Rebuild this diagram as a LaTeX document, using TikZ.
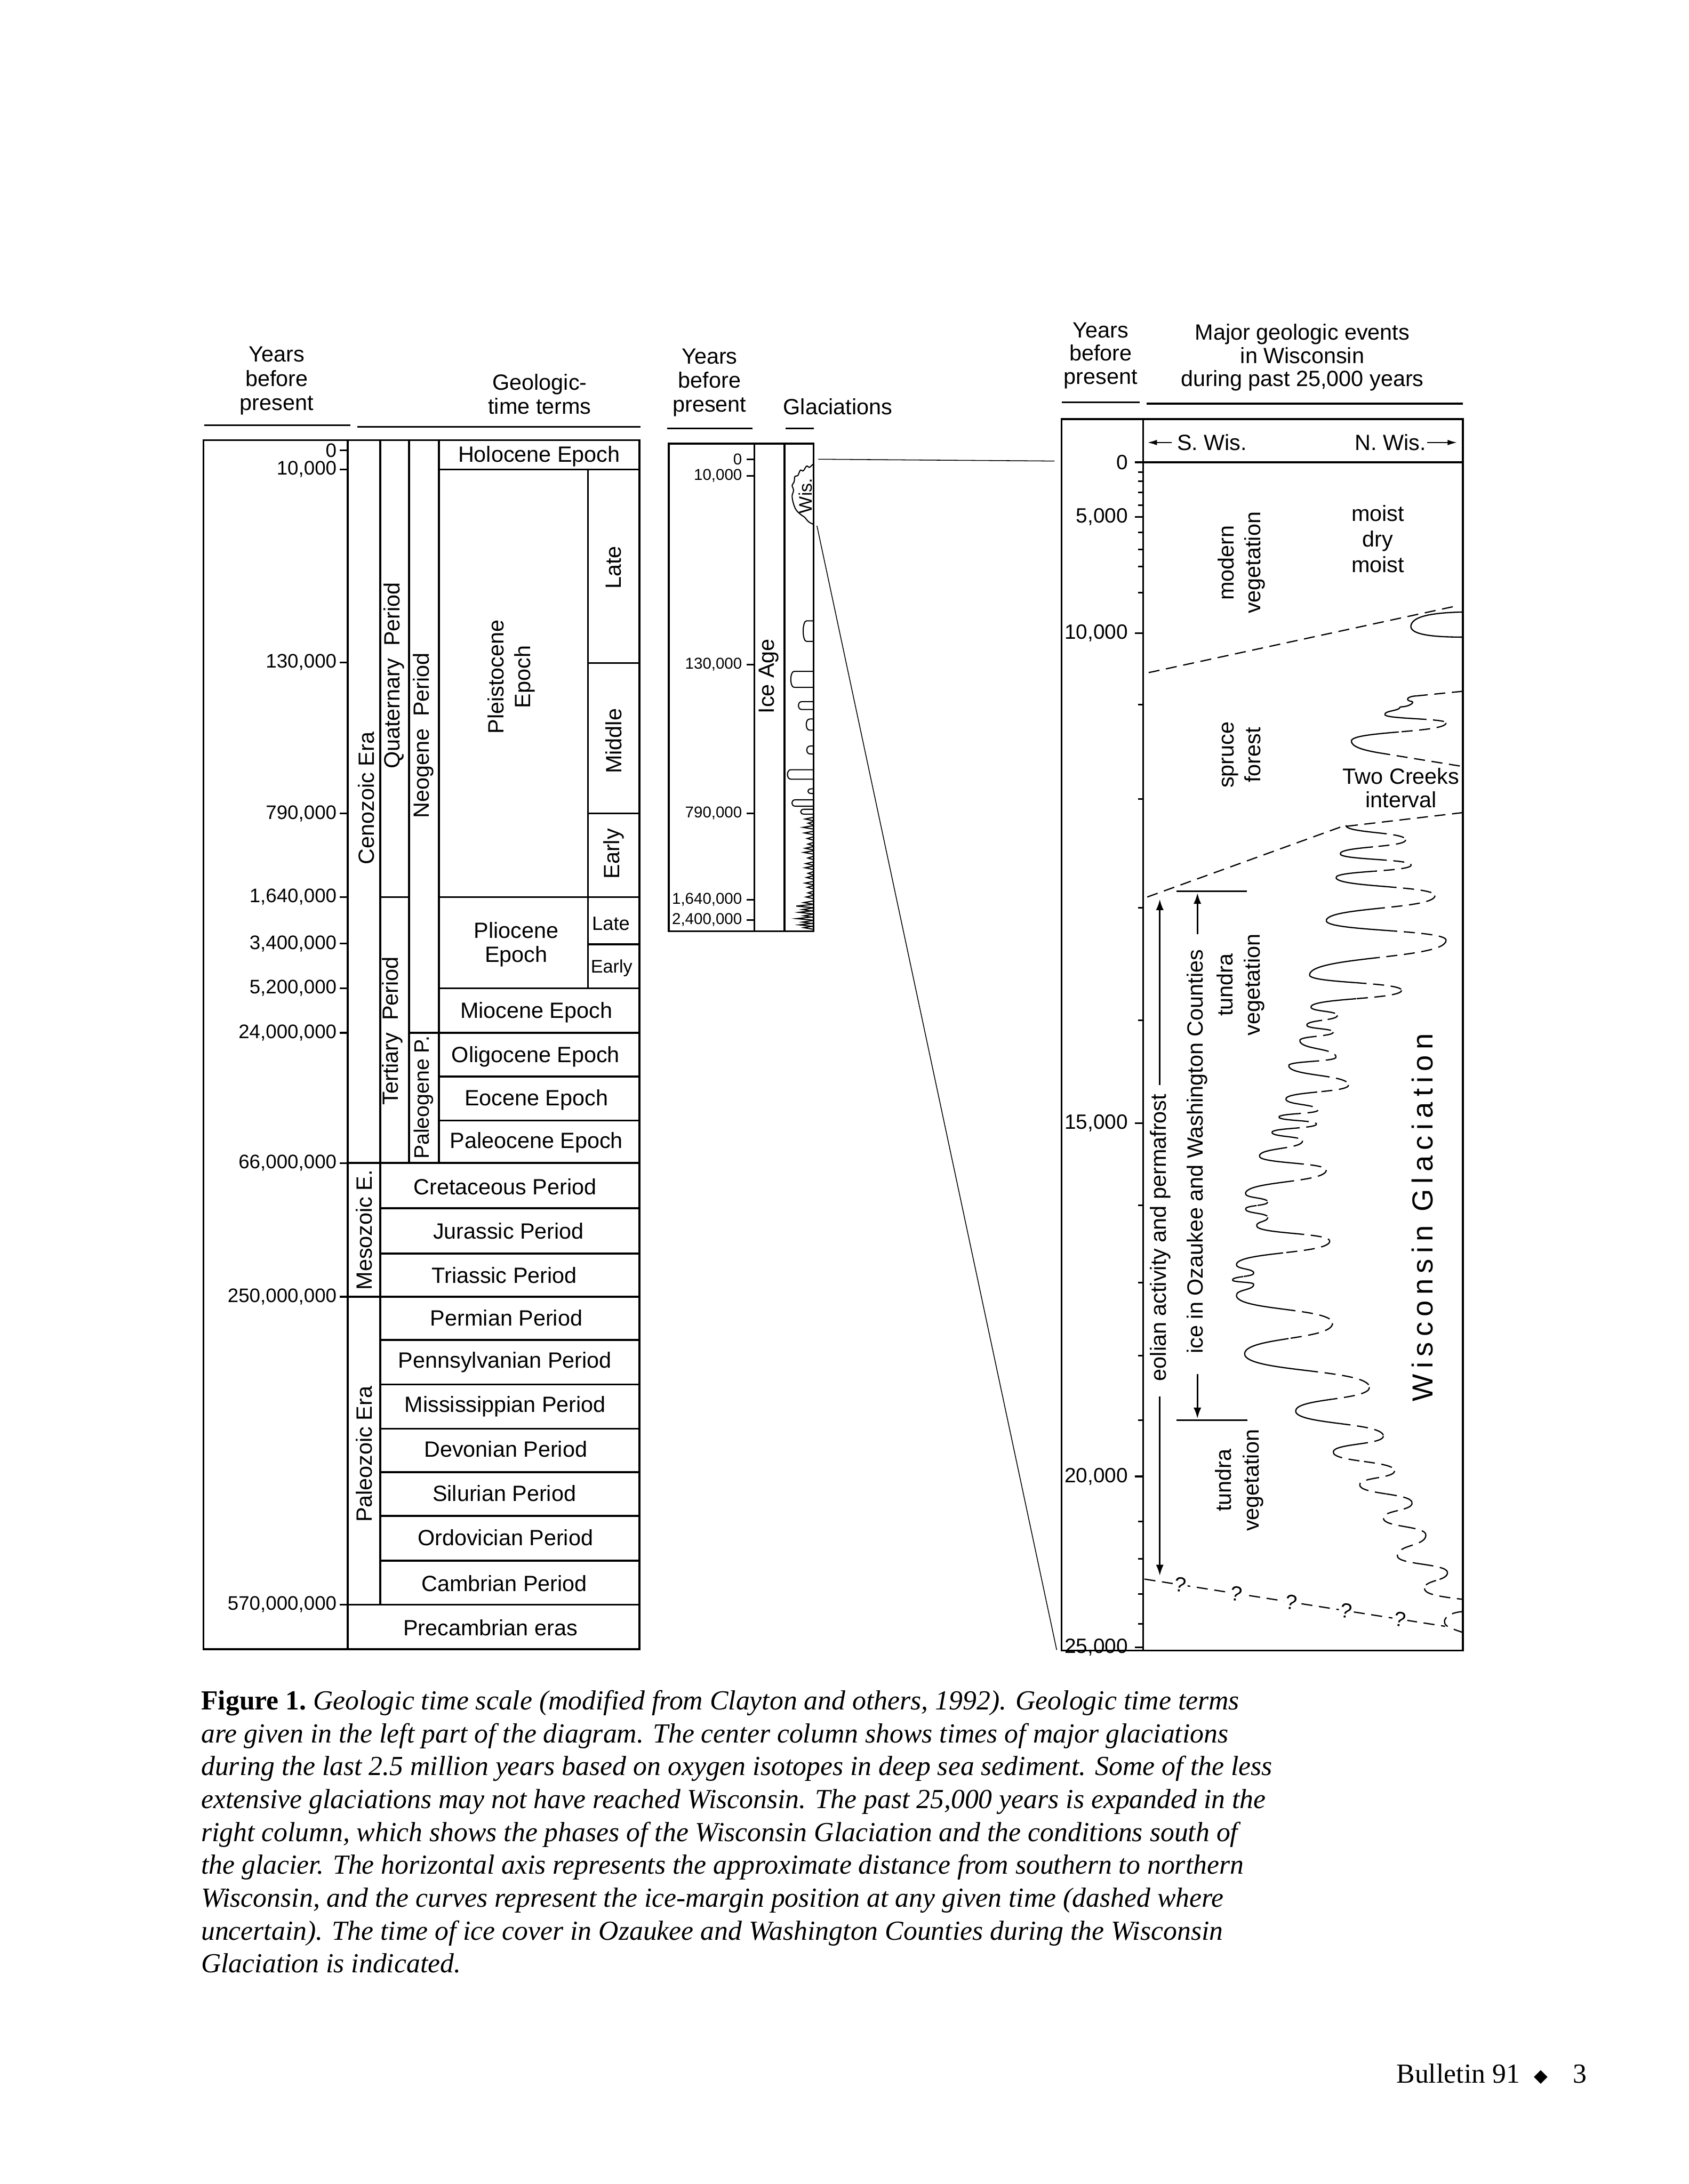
\documentclass[tikz,border=0pt]{standalone}
\usepackage{fontspec}
\setmainfont{Liberation Serif}
\newfontfamily\hv{Liberation Sans}
\newfontfamily\hvsp[LetterSpace=19]{Liberation Sans}
\newfontfamily\dvs{DejaVu Sans}
\usetikzlibrary{arrows.meta}

% half-split wave segment: style1 style2 xa ya xb yb
\newcommand\wsegx[6]{%
  \pgfmathsetmacro\wh{0.55*(#6-#4)}%
  \pgfmathsetmacro\wmx{(#3+#5)/2}\pgfmathsetmacro\wmy{(#4+#6)/2}%
  \pgfmathsetmacro\wqx{(3*#3+#5)/4}\pgfmathsetmacro\wqy{(3*#4+#6+\wh)/4}%
  \pgfmathsetmacro\wrx{(#3+3*#5)/4}\pgfmathsetmacro\wry{(#4+3*#6-\wh)/4}%
  \pgfmathsetmacro\waa{#4+\wh/2}\pgfmathsetmacro\wbb{#6-\wh/2}%
  \draw[#1] (#3,#4) .. controls (#3,\waa) and (\wqx,\wqy) .. (\wmx,\wmy);
  \draw[#2] (\wmx,\wmy) .. controls (\wrx,\wry) and (#5,\wbb) .. (#5,#6);
}
\newcommand\wseg[4]{%
  \ifdim #1pt<#3pt \wsegx{wsol}{wdsh}{#1}{#2}{#3}{#4}\else\wsegx{wdsh}{wsol}{#1}{#2}{#3}{#4}\fi}
\newcommand\wchain[2][a]{%
  \gdef\wfirst{1}%
  \foreach \xa/\ya in {#2}{%
    \ifnum\wfirst=0
      \if#1d\wsegx{wdsh}{wdsh}{\pxa}{\pya}{\xa}{\ya}\else\wseg{\pxa}{\pya}{\xa}{\ya}\fi
    \fi
    \xdef\pxa{\xa}\xdef\pya{\ya}\gdef\wfirst{0}%
  }}
\newcommand\gbump[3]{\draw[gl] (583.8,#1) -- (#3+2.5,#1) .. controls (#3-0.8,#1) and (#3-0.8,#2) .. (#3+2.5,#2) -- (583.8,#2);}

\begin{document}
\begin{tikzpicture}[x=0.505pt,y=-0.505pt,
  box/.style={line width=0.7pt},
  rule/.style={line width=0.6pt},
  tick/.style={line width=0.6pt},
  thinl/.style={line width=0.3pt},
  gl/.style={line width=0.4pt},
  wsol/.style={line width=0.45pt},
  wdsh/.style={line width=0.45pt,dash pattern=on 4pt off 2.4pt},
  lab/.style={font=\hv\fontsize{8}{8.8}\selectfont,inner sep=0,align=center},
  rlab/.style={lab,rotate=90},
  rlab2/.style={rlab,font=\hv\fontsize{8}{9.6}\selectfont},
  tkl/.style={font=\hv\fontsize{7.1}{8}\selectfont,inner sep=0,anchor=east},
  rtkl/.style={font=\hv\fontsize{7.5}{8}\selectfont,inner sep=0,anchor=east},
  ctkl/.style={font=\hv\fontsize{5.7}{6}\selectfont,inner sep=0,anchor=east},
  arr/.style={line width=0.5pt,-{Latex[length=3.5pt,width=2pt]}},
  varr/.style={line width=0.6pt,-{Latex[length=4pt,width=2.8pt]}},
  captxt/.style={anchor=base west,inner sep=0,font=\fontsize{10}{12}\selectfont\itshape}
]
\fill[white] (0,0) rectangle (1212,1568);
\useasboundingbox (0,0) rectangle (1212,1568);

% ================= LEFT COLUMN =================
\node[lab] (lhYears) at (198.6,273.5) {Years\\before\\present};
\node[lab] (lhGeo) at (387.4,283) {Geologic-\\time terms};
\draw[rule] (146.6,305.4) -- (251.6,305.4);
\draw[rule] (256.4,306.5) -- (459.6,306.5);

\draw[box] (146,316) rectangle (459,1184);
\draw[box] (249.5,316) -- (249.5,1184);
\draw[box] (273,316) -- (273,1152);
\draw[box] (293.5,316) -- (293.5,835);
\draw[box] (315,316) -- (315,835);
\draw[box] (422,337) -- (422,709.5);
\draw[box] (315,337) -- (459,337);
\draw[box] (422,476) -- (459,476);
\draw[box] (422,584) -- (459,584);
\draw[box] (273,644) -- (293.5,644);
\draw[box] (315,644) -- (459,644);
\draw[box] (422,678) -- (459,678);
\draw[box] (315,709.5) -- (459,709.5);
\draw[box] (293.5,741.5) -- (459,741.5);
\draw[box] (315,773) -- (459,773);
\draw[box] (315,804.5) -- (459,804.5);
\draw[box] (249.5,835) -- (459,835);
\foreach \yy in {867.5,900,962,994,1025.7,1057,1088.4,1120.5} \draw[box] (273,\yy) -- (459,\yy);
\draw[box] (249.5,931) -- (459,931);
\draw[box] (249.5,1152) -- (459,1152);

\foreach \yy/\lbl [count=\i] in {323.3/0,337/{10,000},475.5/{130,000},584/{790,000},644/{1,640,000},677.5/{3,400,000},709.5/{5,200,000},741.5/{24,000,000},835/{66,000,000},931/{250,000,000},1152/{570,000,000}}{
  \draw[tick] (244,\yy) -- (249.5,\yy);
  \node[tkl] (lt\i) at (242,\yy) {\lbl};
}

\node[lab] (holo) at (387,327.5) {Holocene Epoch};
\node[rlab2] (pleist) at (367,486) {Pleistocene\\Epoch};
\node[rlab] (plLate) at (440.5,407.5) {Late};
\node[rlab] (plMid) at (440.5,532) {Middle};
\node[rlab] (plEarly) at (440.5,613) {Early};
\node[lab] (plio) at (370.5,678) {Pliocene\\Epoch};
\node[lab,font=\hv\fontsize{7}{8}\selectfont] (pliLate) at (438.5,663) {Late};
\node[lab,font=\hv\fontsize{6.6}{8}\selectfont] (pliEarly) at (439,695) {Early};
\node[lab] (mio) at (385,727) {Miocene Epoch};
\node[lab] (oli) at (384.5,758.6) {Oligocene Epoch};
\node[lab] (eoc) at (385,789.5) {Eocene Epoch};
\node[lab] (pal) at (385,820.3) {Paleocene Epoch};
\node[lab] (cret) at (362.5,852) {Cretaceous Period};
\node[lab] (jur) at (365,883.7) {Jurassic Period};
\node[lab] (tri) at (362,915.4) {Triassic Period};
\node[lab] (perm) at (363.5,946) {Permian Period};
\node[lab] (penn) at (362.5,978) {Pennsylvanian Period};
\node[lab] (miss) at (362.7,1009.6) {Mississippian Period};
\node[lab] (dev) at (363,1040.5) {Devonian Period};
\node[lab] (sil) at (362,1072) {Silurian Period};
\node[lab] (ord) at (362.8,1103.8) {Ordovician Period};
\node[lab] (camb) at (362,1137) {Cambrian Period};
\node[lab] (prec) at (352,1168.5) {Precambrian eras};
\node[rlab] (ceno) at (263,573) {Cenozoic Era};
\node[rlab] (meso) at (261.5,883) {Mesozoic E.};
\node[rlab] (paleo) at (261.5,1044) {Paleozoic Era};
\node[rlab] (quat) at (283,485) {Quaternary\ \ Period};
\node[rlab] (tert) at (281.5,740) {Tertiary\ \ Period};
\node[rlab] (neo) at (304,528) {Neogene\ \ Period};
\node[rlab,font=\hv\fontsize{7.6}{8}\selectfont] (paleog) at (304,788) {Paleogene P.};

% ================= CENTER COLUMN =================
\node[lab,font=\hv\fontsize{8}{8.7}\selectfont] (chYears) at (509.3,274.7) {Years\\before\\present};
\node[lab] (chGla) at (601.4,292) {Glaciations};
\draw[rule] (479,307.5) -- (540.3,307.5);
\draw[rule] (564,307.5) -- (584.2,307.5);

\draw[box] (480,318.4) rectangle (584,668.5);
\draw[box] (541.5,318.4) -- (541.5,668.5);
\draw[box] (563,318.4) -- (563,668.5);
\foreach \yy/\lbl [count=\i] in {329.9/0,341.5/{10,000},477/{130,000},584/{790,000},646/{1,640,000},660.4/{2,400,000}}{
  \draw[tick] (536,\yy) -- (541.5,\yy);
  \node[ctkl] (ct\i) at (533,\yy) {\lbl};
}
\node[rlab] (iceage) at (552,485.5) {Ice Age};

% Wisconsin glaciation curve (center)
\draw[gl] plot[smooth,tension=0.6] coordinates {(583.8,333) (581,335.5) (579,334.6) (576.6,338) (574.5,337.6) (572.6,341.5) (570.6,342) (570,346) (568.6,348.5) (569.6,352) (568.6,356) (569.4,361) (571.4,366) (575,369.6) (577.4,371.2) (580.4,374.6) (583.8,376.4)};
\node[rlab,font=\hv\fontsize{6.6}{7}\selectfont] (wis) at (578.3,356) {Wis.};
\gbump{445.7}{460.5}{576.5}
\gbump{482}{493.5}{567.6}
\gbump{503.7}{509.4}{573.1}
\gbump{516.2}{524.2}{578.7}
\gbump{535.6}{541.3}{579.1}
\gbump{552.6}{559.4}{565.2}
\gbump{566.3}{569.7}{579.9}
\gbump{574.2}{578.8}{568.4}
\gbump{581}{584.5}{574.7}
\foreach \yy/\xx in {588/578,591/580,594/576.5,598/577.5,602/579.5,606/579.9,609/578,612/577,616/579.9,620/578.5,623/577.9,627/580,630/579,634/578,637/579.5,641/580,644/578.7,648/577,650.5/571.6,653/576,655/573.5,657.5/577,659.5/571.9,662/576,664/573.9,666/577}
  \draw[gl] (583.8,\yy-1.2) -- (\xx,\yy) -- (583.8,\yy+1.2);

% connectors to the right column
\coordinate (cTop) at (587.4,329.7);
\coordinate (rTop) at (757,331);
\coordinate (cSl) at (586.4,377.5);
\coordinate (rBot) at (758.5,1184.6);
\draw[thinl] (cTop) -- (rTop);
\draw[thinl] (cSl) -- (rBot);

% ================= RIGHT COLUMN =================
\node[lab,font=\hv\fontsize{8}{8.4}\selectfont] (rhYears) at (790,255.2) {Years\\before\\present};
\node[lab,font=\hv\fontsize{8}{8.4}\selectfont] (rhMajor) at (934.8,256.6) {Major geologic events\\in Wisconsin\\during past 25,000 years};
\draw[rule] (762,288.7) -- (818,288.7);
\draw[rule] (823,289.8) -- (1050,289.8);

\draw[box] (762,301) rectangle (1050,1185);
\draw[box] (820.5,301) -- (820.5,1185);
\draw[box] (814.5,332) -- (1050,332);
\foreach \yy/\lbl [count=\i] in {331.9/0,371.1/{5,000},454.5/{10,000},806.4/{15,000},1060/{20,000},1182.8/{25,000}}{
  \draw[tick] (814.5,\yy) -- (820.5,\yy);
  \node[rtkl] (rt\i) at (810,\yy) {\lbl};
}
\foreach \yy in {339,345.4,353.6,362.8,382.2,394.5,406.7,425.4,506,573.5,651.7,732.5,865.3,920.8,973.3,1019.7,1092.4,1119,1144.5,1165.8}
  \draw[tick] (817,\yy) -- (820.5,\yy);

\node[lab] (sw) at (870,317.7) {S. Wis.};
\node[lab] (nw) at (998,317.7) {N. Wis.};
\draw[arr] (841,317.7) -- (823.5,317.7);
\draw[arr] (1024.4,317.7) -- (1046,317.7);

\node[rlab2] (modern) at (891,404) {modern\\vegetation};
\node[lab,font=\hv\fontsize{8}{9.3}\selectfont] (moist) at (989,387) {moist\\dry\\moist};
\node[rlab2] (spruce) at (891,542) {spruce\\forest};
\node[lab,font=\hv\fontsize{8}{8.5}\selectfont] (twoc) at (1005.7,565.6) {Two Creeks\\interval};
\node[rlab2,font=\hv\fontsize{8}{10}\selectfont] (tundra1) at (890.5,707) {tundra\\vegetation};
\node[rlab2,font=\hv\fontsize{8}{10}\selectfont] (tundra2) at (889.5,1062.8) {tundra\\vegetation};
\node[rotate=90,inner sep=0,font=\hvsp\fontsize{10.5}{12}\selectfont] (wg) at (1021,874) {Wisconsin Glaciation};

% eolian activity and permafrost
\node[rlab] (eol) at (833,888.5) {eolian activity and permafrost};
\coordinate (eolTop) at (832.5,645.5);
\coordinate (eolBot) at (832.5,1131.3);
\draw[varr] (832.5,779) -- (eolTop);
\draw[varr] (832.5,1002.7) -- (eolBot);

% ice in Ozaukee and Washington Counties
\node[rlab] (ozk) at (859.5,826.7) {ice in Ozaukee and Washington Counties};
\coordinate (ozTop) at (859.5,641);
\coordinate (ozBot) at (859.5,1018.5);
\draw[line width=0.6pt] (844.6,640) -- (895,640);
\draw[line width=0.6pt] (844.6,1019.7) -- (895.4,1019.7);
\draw[varr] (859.5,670.5) -- (ozTop);
\draw[varr] (859.5,986.5) -- (ozBot);

% boundaries
\draw[wdsh] (824.5,482.9) -- (1047,434.7);
\draw[wsol] (1050,439.4) .. controls (1022,440) and (1013,444) .. (1012.7,449.8) .. controls (1013,455) and (1025,457.4) .. (1050,457.4);
\draw[wdsh] (823.5,644) -- (962.4,593.7) -- (1050,583.4);

% ice margin curves, upper (spruce forest)
\draw[wdsh] (1050,496.3) -- (1017,499.6);
\draw[wsol] (1017,499.6) .. controls (1009,500) and (1009,503) .. (1013,503.5) .. controls (1016,504) and (1012,507.5) .. (1005,507.5);
\wchain{1005/507.5,994/513,1038/519,970/532}
\draw[wsol] (970,532) .. controls (970,536) and (978,538.5) .. (990,540.5);
\draw[wdsh] (990,540.5) -- (1050,550.3);

% ice margin curves, main
\wchain{966/592.5,1009/603,962/613,1013/621,959/630,1030/643,952/661,1038/675,940/700,1006/711,941/723,960/729,938/736,957/741,933/747,959/759,925/765,968/779,923/789,946/797,918/802,945/807,913/813,935/819,904/830,952/840,894/857,910/863,894/868,910/874,902/880,954.5/891,887.5/908,900/914,884.6/919,900/922,887.5/930,956.5/950,893.4/972,983/996,930/1013,993/1031,957/1042.5}
\wchain[d]{957/1042.5,1001/1056,976/1066,1013.6/1079,993/1090,1023.5/1102,1003/1117,1039/1129,1022.5/1140.4}
\draw[wdsh] (1022.5,1140.4) .. controls (1022.5,1144) and (1030,1146) .. (1050,1148.2);
\draw[wdsh] (1050,1157) .. controls (1036,1158) and (1034,1166) .. (1040,1168) .. controls (1044,1170) .. (1050,1172);

% ?-line
\coordinate (qA) at (821.5,1133.7);
\coordinate (qB) at (1037.3,1167.6);
\draw[wdsh] (qA) -- (qB);
\foreach \xx/\yy [count=\i] in {847.1/1137.8,887.5/1144.1,926.9/1150.3,966.3/1156.5,1004.8/1162.5}
  \node[fill=white,inner sep=0.6pt,rotate=-9,font=\hv\fontsize{7.5}{8}\selectfont] (q\i) at (\xx,\yy) {?};

% ================= CAPTION =================
\node[captxt] (cap1) at (144,1227.5) {\upshape\bfseries Figure 1.\ \mdseries\itshape Geologic time scale (modified from Clayton and others, 1992). Geologic time terms};
\node[captxt] (cap2) at (144,1251.1) {are given in the left part of the diagram. The center column shows times of major glaciations};
\node[captxt] (cap3) at (144,1274.7) {during the last 2.5 million years based on oxygen isotopes in deep sea sediment. Some of the less};
\node[captxt] (cap4) at (144,1298.3) {extensive glaciations may not have reached Wisconsin. The past 25,000 years is expanded in the};
\node[captxt] (cap5) at (144,1321.9) {right column, which shows the phases of the Wisconsin Glaciation and the conditions south of};
\node[captxt] (cap6) at (144,1345.5) {the glacier. The horizontal axis represents the approximate distance from southern to northern};
\node[captxt] (cap7) at (144,1369.1) {Wisconsin, and the curves represent the ice-margin position at any given time (dashed where};
\node[captxt] (cap8) at (144,1392.7) {uncertain). The time of ice cover in Ozaukee and Washington Counties during the Wisconsin};
\node[captxt] (cap9) at (144,1416.3) {Glaciation is indicated.};

% footer
\node[anchor=base west,inner sep=0,font=\fontsize{10}{12}\selectfont] (bul) at (1002,1495.5) {Bulletin 91};
\node[inner sep=0,font=\dvs\fontsize{6.5}{8}\selectfont] (dia) at (1106,1491.5) {◆};
\node[anchor=base,inner sep=0,font=\fontsize{10}{12}\selectfont] (pg) at (1134,1495.5) {3};
\end{tikzpicture}
\end{document}
